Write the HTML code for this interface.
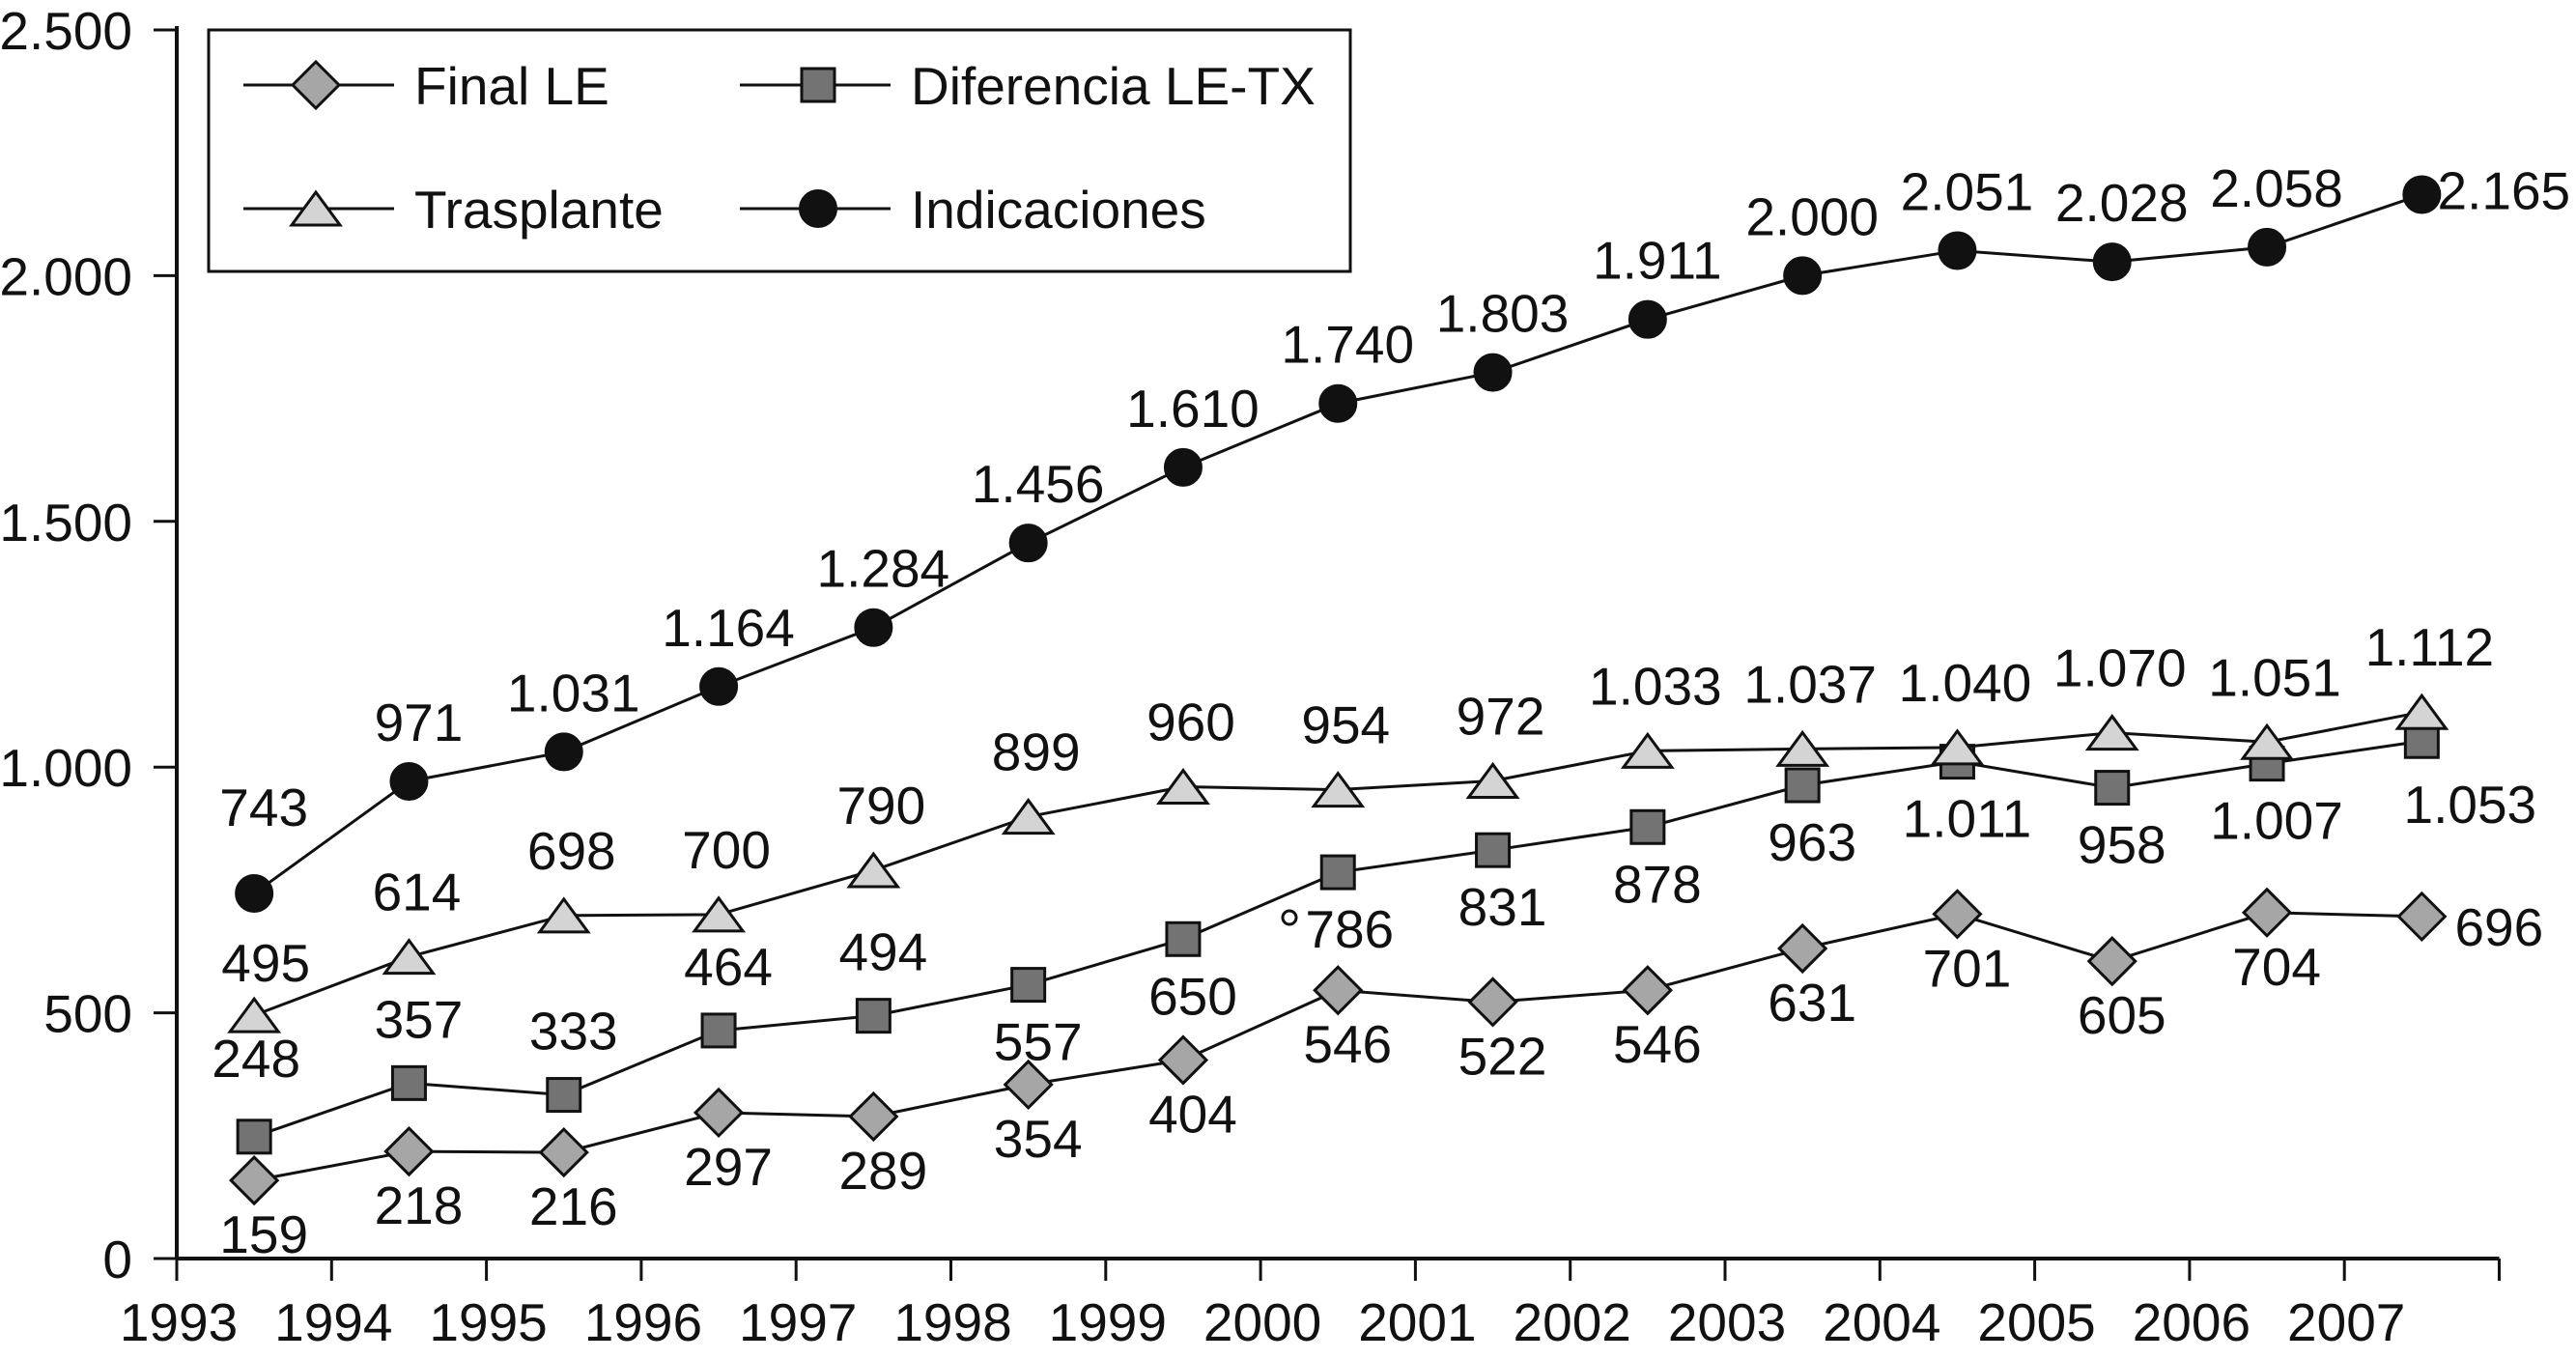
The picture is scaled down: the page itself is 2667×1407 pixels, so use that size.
<!DOCTYPE html>
<html><head><meta charset="utf-8">
<style>
html,body{margin:0;padding:0;background:#fff;}
svg{display:block;font-family:"Liberation Sans",sans-serif;}
</style></head>
<body>
<svg id="chart" width="2667" height="1407" viewBox="0 0 2667 1407" xmlns="http://www.w3.org/2000/svg"></svg>
<script>
const years = ["1993","1994","1995","1996","1997","1998","1999","2000","2001","2002","2003","2004","2005","2006","2007"];
const yTicks = [0,500,1000,1500,2000,2500];
const yTickLabels = ["0","500","1.000","1.500","2.000","2.500"];
const finalLE = [159,218,216,297,289,354,404,546,522,546,631,701,605,704,696];
const diferencia = [248,357,333,464,494,557,650,786,831,878,963,1011,958,1007,1053];
const trasplante = [495,614,698,700,790,899,960,954,972,1033,1037,1040,1070,1051,1112];
const indicaciones = [743,971,1031,1164,1284,1456,1610,1740,1803,1911,2000,2051,2028,2058,2165];

const NS="http://www.w3.org/2000/svg";
const svg=document.getElementById('chart');
const X0=183, XW=160.3, Y0=1303, YT=31, YMAX=2500, FS=55;
function xPos(i){return X0+(i+0.5)*XW;}
function xTick(i){return X0+i*XW;}
function yPos(v){return Y0-(v/YMAX)*(Y0-YT);}
function fmt(v){return v>=1000?Math.floor(v/1000)+"."+String(v%1000).padStart(3,"0"):String(v);}
function mk(tag,attrs,parent){const e=document.createElementNS(NS,tag);for(const k in attrs)e.setAttribute(k,attrs[k]);(parent||svg).appendChild(e);return e;}

const axes=mk('g',{});


const ya=mk('line',{x1:X0,y1:YT-4,x2:X0,y2:Y0,stroke:'#111','stroke-width':4},axes);


const xa=mk('line',{x1:X0,y1:Y0,x2:X0+15*XW,y2:Y0,stroke:'#111','stroke-width':4},axes);


yTicks.forEach((v,i)=>{
  mk('line',{x1:X0-24,y1:yPos(v),x2:X0,y2:yPos(v),stroke:'#111','stroke-width':3},axes);
  const t=mk('text',{x:X0-46,y:yPos(v)+20,'text-anchor':'end','font-size':FS,fill:'#111'},axes);
  t.textContent=yTickLabels[i];
  
  
});
for(let i=0;i<=15;i++){
  mk('line',{x1:xTick(i),y1:Y0,x2:xTick(i),y2:Y0+23,stroke:'#111','stroke-width':3},axes);
}
years.forEach((y,i)=>{
  const t=mk('text',{x:xTick(i)+2,y:Y0+85,'text-anchor':'middle','font-size':FS,fill:'#111'},axes);
  t.textContent=y;
  
  
});

function marker(type,cx,cy,g){
  let e;
  if(type==='diamond') e=mk('polygon',{points:`${cx-24},${cy} ${cx},${cy-24} ${cx+24},${cy} ${cx},${cy+24}`,fill:'#a6a6a6',stroke:'#111','stroke-width':3},g);
  else if(type==='square') e=mk('rect',{x:cx-17,y:cy-17,width:34,height:34,fill:'#737373',stroke:'#111','stroke-width':3},g);
  else if(type==='triangle') e=mk('polygon',{points:`${cx-25},${cy+17} ${cx},${cy-17} ${cx+25},${cy+17}`,fill:'#d4d4d4',stroke:'#111','stroke-width':3},g);
  else e=mk('circle',{cx:cx,cy:cy,r:19,fill:'#111',stroke:'#111','stroke-width':2},g);
  return e;
}
function series(name,data,type,labelDy,labelDx){
  const g=mk('g',{});
  
  
  const pts=data.map((v,i)=>xPos(i)+','+yPos(v)).join(' ');
  const l=mk('polyline',{points:pts,fill:'none',stroke:'#111','stroke-width':3},g);
  
  
  data.forEach((v,i)=>{
    const m=marker(type,xPos(i),yPos(v),g);
    
    
    const t=mk('text',{x:xPos(i)+labelDx(i),y:yPos(v)+labelDy(i)+20,'text-anchor':'middle','font-size':FS,fill:'#111'},g);
    t.textContent=fmt(v);
    
    
  });
}
series('final-le',finalLE,'diamond',i=>i===14?10:55,i=>i===14?80:10);
series('diferencia',diferencia,'square',i=>i===0?-82:(i<=4?-67:(i===14?65:58)),i=>i===14?50:(i===7?12:(i===0?2:10)));
series('trasplante',trasplante,'triangle',i=>i===0?-55:-68,i=>i===0?12:8);
series('indicaciones',indicaciones,'circle',i=>i===0?-90:(i===14?-5:-62),i=>i===14?85:10);
const oc=mk('circle',{cx:1335,cy:950,r:7,fill:'none',stroke:'#111','stroke-width':3});



const lg=mk('g',{});


mk('rect',{x:216,y:31,width:1182,height:250,fill:'#fff',stroke:'#111','stroke-width':3},lg);
const entries=[['Final LE','diamond',252,327,88],['Diferencia LE-TX','square',766,847,88],['Trasplante','triangle',252,327,216],['Indicaciones','circle',766,847,216]];
entries.forEach(e=>{
  const eg=mk('g',{},lg);
  
  
  mk('line',{x1:e[2],y1:e[4],x2:e[2]+156,y2:e[4],stroke:'#111','stroke-width':3},eg);
  marker(e[1],e[3],e[4],eg);
  const t=mk('text',{x:e[2]+177,y:e[4]+20,'font-size':FS,fill:'#111'},eg);
  t.textContent=e[0];
});
</script>
</body></html>
